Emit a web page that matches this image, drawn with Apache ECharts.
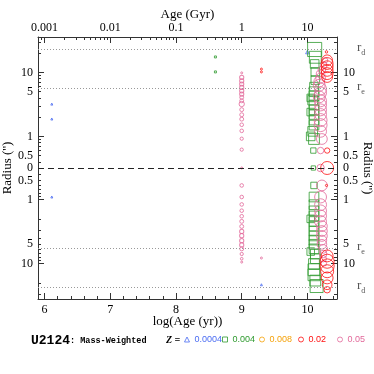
<!DOCTYPE html>
<html><head><meta charset="utf-8">
<script src="https://cdn.jsdelivr.net/npm/echarts@6/dist/echarts.min.js"></script>
<style>html,body{margin:0;padding:0;background:#fff}#c{width:374px;height:374px}</style>
</head><body><div id="c"></div>
<script>
// ---------------- data ----------------
const logAgeTicks = [6, 7, 8, 9, 10];
const ageGyrLabels = ['0.001', '0.01', '0.1', '1', '10'];
const radiusLabels = [0, 0.5, 1, 5, 10];          // arcsec, shown on both halves
const radiusMajorTicks = [1, 10];
const radiusMinorTicks = [0.4, 0.5, 0.6, 0.7, 0.8, 0.9, 2, 3, 4, 5, 6, 7, 8, 9, 20, 30];
const rEffective = 5.7;   // r_e (arcsec)
const rDisk = 23.1;       // r_d (arcsec)
const metallicities = ['0.0004', '0.004', '0.008', '0.02', '0.05'];

// each point: [log(Age/yr), radius (arcsec, negative = other side), mass weight (%)]
const z0004 = [
  [6.11, 3.2, 0.3], [6.11, 1.87, 0.3], [6.11, -0.91, 0.3],
  [10.0, 20.9, 2], [9.3, -21.5, 0.3]
];
const z004 = [
  [8.6, 17.5, 0.3], [8.6, 10.2, 0.3],
  [10.11, 22.9, 50], [10.12, 17.3, 34.6], [10.11, 13.6, 17], [10.12, 10.2, 17],
  [10.12, 7.6, 17], [10.1, 6.0, 17], [10.1, 5.0, 22], [10.1, 4.3, 22],
  [10.08, 3.7, 22], [10.1, 3.1, 22], [10.1, 2.6, 22], [10.1, 2.2, 22],
  [10.1, 1.8, 22], [10.1, 1.5, 22], [10.08, 1.2, 22], [10.1, 0.91, 28],
  [10.05, 4.0, 12.5], [10.05, 2.4, 12.5], [10.05, 1.0, 17],
  [10.09, 0.6, 5.5], [10.09, 0, 3.1],
  [10.1, -0.6, 8.7], [10.1, -0.91, 22], [10.1, -1.2, 22], [10.1, -1.5, 22],
  [10.1, -1.8, 22], [10.1, -2.2, 22], [10.1, -2.6, 22], [10.1, -3.1, 22],
  [10.1, -3.7, 22], [10.1, -4.3, 22], [10.1, -5.0, 22], [10.1, -5.9, 22],
  [10.12, -7.1, 22], [10.12, -8.4, 22], [10.1, -10.2, 28], [10.1, -12.5, 34.6],
  [10.1, -15.0, 34.6], [10.12, -18.5, 28], [10.14, -22.5, 42],
  [10.05, -2.0, 12.5], [10.05, -6.5, 12.5]
];
const z008 = [];
const z02 = [
  [9.3, 11.3, 0.3], [9.3, 10.2, 0.3],
  [10.29, 21, 0.6],
  [10.3, 15.5, 28], [10.3, 13.8, 34.6], [10.3, 12.3, 34.6], [10.3, 10.8, 34.6],
  [10.3, 9.6, 34.6], [10.3, 8.5, 28],
  [10.3, 0.6, 5.5], [10.3, 0, 42], [10.29, -0.6, 0.4],
  [10.3, -7.6, 34.6], [10.3, -9.2, 50], [10.3, -10.9, 50], [10.3, -13.2, 42],
  [10.3, -16.8, 34.6], [10.3, -21.5, 22], [10.3, -25.7, 8.7]
];
const z05 = [
  [9.0, 9.85, 0.3], [9.0, 8.4, 3], [9.0, 7.4, 3], [9.0, 6.6, 3], [9.0, 5.83, 3],
  [9.0, 5.17, 3], [9.0, 4.6, 3], [9.0, 4.08, 2.5], [9.0, 3.6, 2.5], [9.0, 3.21, 5.5],
  [9.0, 2.62, 2.5], [9.0, 2.18, 2.5], [9.0, 1.86, 2.5], [9.0, 1.52, 2], [9.0, 1.22, 2],
  [9.0, 0.92, 1.5], [9.0, 0.62, 1.5], [9.0, 0, 0.3],
  [9.0, -0.60, 2], [9.0, -0.91, 2], [9.0, -1.19, 2], [9.0, -1.49, 2], [9.0, -1.82, 2],
  [9.0, -2.19, 2.5], [9.0, -2.63, 2.5], [9.0, -3.14, 3], [9.0, -3.67, 3], [9.0, -4.39, 3],
  [9.0, -5.12, 3], [9.0, -5.90, 2.5], [9.0, -7.09, 1.5], [9.0, -8.42, 0.8], [9.0, -9.5, 0.3],
  [9.3, -8.2, 0.3],
  [10.27, 15.5, 5.5], [10.25, 13, 8.7], [10.22, 11, 12.5], [10.2, 9.5, 17], [10.2, 8.2, 22],
  [10.18, 7.2, 28], [10.18, 6.3, 34.6], [10.2, 5.5, 34.6], [10.2, 4.8, 34.6], [10.18, 4.15, 34.6],
  [10.2, 3.6, 34.6], [10.2, 3.1, 34.6], [10.2, 2.6, 34.6], [10.2, 2.2, 34.6], [10.2, 1.8, 42],
  [10.2, 1.5, 42], [10.2, 1.2, 34.6], [10.22, 0.91, 28], [10.2, 0.6, 8.7], [10.2, 0, 12.5],
  [10.22, -0.6, 28], [10.2, -0.91, 34.6], [10.2, -1.2, 34.6], [10.2, -1.5, 34.6], [10.2, -1.8, 34.6],
  [10.2, -2.2, 34.6], [10.22, -2.6, 28], [10.22, -3.1, 28], [10.22, -3.7, 28], [10.22, -4.3, 22],
  [10.22, -5.0, 22], [10.24, -5.9, 17], [10.24, -7.1, 12.5], [10.24, -8.4, 8.7], [10.25, -10, 5.5]
];

// ---------------- helpers ----------------
const R0 = 0.32; // radius at the centre line of the mirrored log scale
function toY(r) { return r === 0 ? 0 : Math.sign(r) * Math.log10(Math.abs(r) / R0); }
function sizeOf(w) { return 1 + 1.85 * Math.sqrt(w); }
function both(list) { const o = []; list.forEach(r => { if (r === 0) o.push(0); else { o.push(toY(r)); o.push(toY(-r)); } }); return o; }
function radiusText(v) {
  if (Math.abs(v) < 1e-6) return '0';
  const r = R0 * Math.pow(10, Math.abs(v));
  return r < 0.95 ? r.toFixed(1) : String(Math.round(r));
}

const topMinor = [];
for (let d = 5; d <= 10; d++) for (let k = 2; k <= 9; k++) {
  const v = d + Math.log10(k);
  if (v >= 5.9 && v <= 10.45) topMinor.push(v);
}
const bottomMinor = [];
for (let i = 31; i <= 52; i++) { if (i % 5 !== 0) bottomMinor.push(i / 5); }

const axisColor = '#333';
const serif = 'Liberation Serif';
const lbl = { fontFamily: serif, fontSize: 12, color: '#000' };
const nameStyle = { fontFamily: serif, fontSize: 13, color: '#000' };
const XMIN = 5.9, XMAX = 10.45, YMAX = 2.05;

function xAx(pos, ticks, len, extra) {
  return Object.assign({
    type: 'value', position: pos, min: XMIN, max: XMAX,
    axisLine: { show: false, onZero: false, lineStyle: { color: axisColor } },
    axisTick: { show: true, inside: true, length: len, customValues: ticks, lineStyle: { color: axisColor } },
    axisLabel: { show: false }, splitLine: { show: false }
  }, extra || {});
}
function yAx(pos, ticks, len, extra) {
  return Object.assign({
    type: 'value', position: pos, min: -YMAX, max: YMAX,
    axisLine: { show: false, onZero: false, lineStyle: { color: axisColor } },
    axisTick: { show: ticks.length > 0, inside: true, length: len, customValues: ticks, lineStyle: { color: axisColor } },
    axisLabel: { show: false }, splitLine: { show: false }
  }, extra || {});
}

const colors = ['#4a6cf2', '#2e9a2e', '#f5a20a', '#ff1010', '#e2689a'];
const symbols = ['triangle', 'rect', 'circle', 'circle', 'circle'];
const datasets = [z0004, z004, z008, z02, z05];
const legendLeft = [184, 222, 259, 298, 337];

const series = [];
const drawOrder = [0, 1, 2, 4, 3];
drawOrder.forEach(i => {
  const s = {
    type: 'scatter', name: metallicities[i], xAxisIndex: 0, yAxisIndex: 0,
    symbol: symbols[i],
    symbolSize: v => sizeOf(v[2]),
    itemStyle: { color: 'transparent', borderColor: colors[i], borderWidth: 1 },
    data: datasets[i].map(p => [p[0], toY(p[1]), p[2]]),
    silent: true
  };
  if (i === 0) {
    s.markLine = {
      silent: true, symbol: ['none', 'none'], label: { show: false }, animation: false,
      data: [
        { yAxis: toY(rDisk), lineStyle: { color: '#999', type: [1, 2], width: 1 } },
        { yAxis: toY(rEffective), lineStyle: { color: '#999', type: [1, 2], width: 1 } },
        { yAxis: toY(-rEffective), lineStyle: { color: '#999', type: [1, 2], width: 1 } },
        { yAxis: toY(-rDisk), lineStyle: { color: '#999', type: [1, 2], width: 1 } },
        { yAxis: 0, lineStyle: { color: '#222', type: [6, 4], width: 1 } }
      ]
    };
  }
  series.push(s);
});

const legends = metallicities.map((m, i) => ({
  data: [{ name: m, icon: symbols[i] }],
  left: legendLeft[i], top: 335, padding: 0, itemWidth: 5, itemHeight: 5,
  selectedMode: false,
  itemStyle: { color: 'transparent', borderColor: colors[i], borderWidth: 1 },
  textStyle: { color: colors[i], fontFamily: 'Liberation Sans', fontSize: 9 }
}));

const option = {
  animation: false,
  backgroundColor: '#fff',
  grid: { left: 38, right: 37, top: 37, bottom: 75, containLabel: false, outerBoundsMode: 'none' },
  title: [
    { text: '{b|U2124}{n|: Mass-Weighted}', left: 31, top: 334, padding: 0,
      textStyle: { rich: {
        b: { fontFamily: 'Liberation Mono', fontWeight: 'bold', fontSize: 13, color: '#000' },
        n: { fontFamily: 'Liberation Mono', fontSize: 8.5, color: '#000' } } } },
    { text: 'Z =', left: 166, top: 335, padding: 0,
      textStyle: { fontFamily: serif, fontStyle: 'italic', fontWeight: 'bold', fontSize: 10, color: '#000' } }
  ],
  legend: legends,
  xAxis: [
    xAx('bottom', logAgeTicks, 6, {
      axisLine: { show: true, onZero: false, lineStyle: { color: axisColor } },
      axisLabel: { show: true, customValues: logAgeTicks, margin: 5, ...lbl },
      name: 'log(Age (yr))', nameLocation: 'middle', nameGap: 16, nameMoveOverlap: false,
      nameTextStyle: nameStyle
    }),
    xAx('bottom', bottomMinor, 3),
    xAx('top', logAgeTicks, 6, {
      axisLine: { show: true, onZero: false, lineStyle: { color: axisColor } },
      axisLabel: { show: true, customValues: logAgeTicks, margin: 3, ...lbl,
        formatter: v => ageGyrLabels[logAgeTicks.indexOf(Math.round(v))] },
      name: 'Age (Gyr)', nameLocation: 'middle', nameGap: 16, nameMoveOverlap: false,
      nameTextStyle: nameStyle
    }),
    xAx('top', topMinor, 3)
  ],
  yAxis: [
    yAx('left', both(radiusMajorTicks), 6, {
      axisLine: { show: true, onZero: false, lineStyle: { color: axisColor } },
      axisLabel: { show: true, customValues: both(radiusLabels), margin: 5, ...lbl, formatter: radiusText },
      name: "Radius ('')", nameLocation: 'middle', nameGap: 24, nameMoveOverlap: false,
      nameTextStyle: nameStyle
    }),
    yAx('left', both(radiusMinorTicks), 3),
    yAx('right', both(radiusMajorTicks), 6, {
      axisLine: { show: true, onZero: false, lineStyle: { color: axisColor } },
      axisLabel: { show: true, customValues: both(radiusLabels), margin: 6, ...lbl, formatter: radiusText },
      name: "Radius ('')", nameLocation: 'middle', nameGap: 24, nameRotate: -90, nameMoveOverlap: false,
      nameTextStyle: nameStyle
    }),
    yAx('right', both(radiusMinorTicks), 3),
    yAx('right', [], 0, {
      axisLabel: { show: true, customValues: both([rEffective, rDisk]), margin: 20,
        formatter: v => (Math.abs(Math.abs(v) - toY(rDisk)) < 1e-6 ? '{r|r}{s|d}' : '{r|r}{s|e}'),
        rich: {
          r: { fontFamily: serif, fontSize: 13, color: '#555', verticalAlign: 'top', lineHeight: 16 },
          s: { fontFamily: serif, fontSize: 8, color: '#555', verticalAlign: 'bottom', lineHeight: 16 }
        } }
    })
  ],
  series: series
};

const chart = echarts.init(document.getElementById('c'), null, { renderer: 'canvas' });
chart.setOption(option);
</script></body></html>
